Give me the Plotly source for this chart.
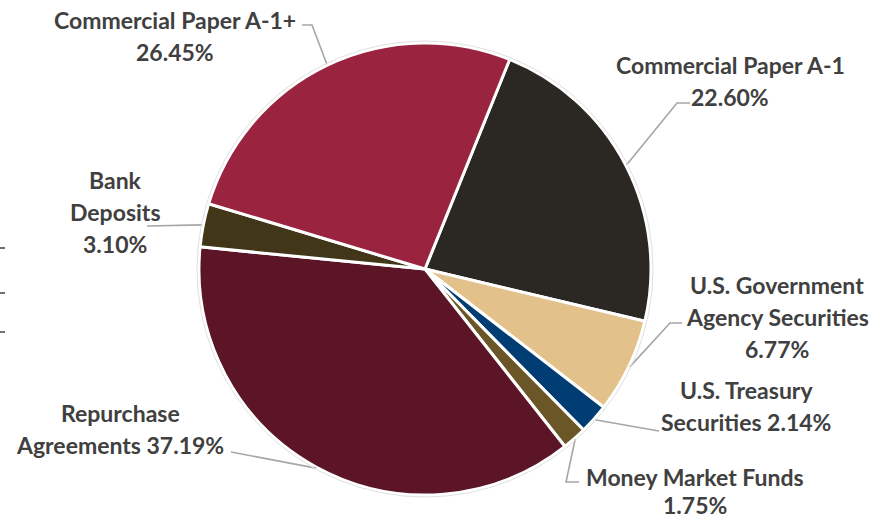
import math
import plotly.graph_objects as go

# ---------------- data ----------------
categories = [
    "Commercial Paper A-1",
    "U.S. Government Agency Securities",
    "U.S. Treasury Securities",
    "Money Market Funds",
    "Repurchase Agreements",
    "Bank Deposits",
    "Commercial Paper A-1+",
]
values = [22.60, 6.77, 2.14, 1.75, 37.19, 3.10, 26.45]
colors = ["#2b2723", "#e3c18b", "#003d73", "#6b5627", "#5b1526", "#423618", "#9a2340"]

# label text lines (the percentage is appended from values)
label_lines = [
    ["Commercial Paper A-1", "{p}"],
    ["U.S. Government", "Agency Securities", "{p}"],
    ["U.S. Treasury", "Securities {p}"],
    ["Money Market Funds", "{p}"],
    ["Repurchase", "Agreements {p}"],
    ["Bank", "Deposits", "{p}"],
    ["Commercial Paper A-1+", "{p}"],
]

# ---------------- layout (pixels) ----------------
W, H = 890, 518
CX, CY, R = 425, 269, 226
ROTATION = 22

# label placement: text centre x, first line y, line gap, leader elbow, leader end
label_pos = [
    dict(x=730, y=65, gap=32, elbow=(677, 103), end=(690, 103)),
    dict(x=777, y=285, gap=32, elbow=(670, 323), end=(682, 323)),
    dict(x=746, y=390, gap=32, elbow=(659, 431), end=(659, 431)),
    dict(x=695, y=477, gap=28, elbow=(566, 482), end=(579, 482)),
    dict(x=120, y=413, gap=32, elbow=(231, 452), end=(231, 452)),
    dict(x=115, y=180, gap=32, elbow=(147, 226), end=(147, 226)),
    dict(x=175, y=20, gap=32, elbow=(312, 25), end=(302, 25)),
]


def px(x, y):
    return x / W, 1 - y / H


fig = go.Figure(
    go.Pie(
        labels=categories,
        values=values,
        sort=False,
        direction="clockwise",
        rotation=ROTATION,
        marker=dict(colors=colors, line=dict(color="white", width=3)),
        textinfo="none",
        hoverinfo="label+percent",
        domain=dict(
            x=[(CX - R) / W, (CX + R) / W],
            y=[1 - (CY + R) / H, 1 - (CY - R) / H],
        ),
        showlegend=False,
    )
)

total = sum(values)
annotations = []
shapes = []
cum = 0.0
for cat, v, lines, pos in zip(categories, values, label_lines, label_pos):
    mid = ROTATION + (cum + v / 2) / total * 360
    cum += v
    a = math.radians(mid)
    ax_ = CX + (R + 1) * math.sin(a)
    ay_ = CY - (R + 1) * math.cos(a)
    pct = f"{v:.2f}%"
    for i, ln in enumerate(lines):
        xx, yy = px(pos["x"], pos["y"] + i * pos["gap"])
        annotations.append(
            dict(
                x=xx, y=yy, xref="paper", yref="paper",
                text=ln.format(p=pct), showarrow=False,
                xanchor="center", yanchor="middle",
                font=dict(family="Lato", size=23, color="#404040", weight="bold"),
            )
        )
    p0 = px(ax_, ay_)
    p1 = px(*pos["elbow"])
    p2 = px(*pos["end"])
    shapes.append(
        dict(
            type="path", xref="paper", yref="paper",
            path=f"M {p0[0]} {p0[1]} L {p1[0]} {p1[1]} L {p2[0]} {p2[1]}",
            line=dict(color="#a6a6a6", width=1.6),
        )
    )

# faint outer rim of the pie
x0, y0 = px(CX - R - 2, CY - R - 2)
x1, y1 = px(CX + R + 2, CY + R + 2)
shapes.append(dict(type="circle", xref="paper", yref="paper", x0=x0, y0=y0, x1=x1, y1=y1,
                   line=dict(color="#e0e0e0", width=1)))

# small stray tick marks at the left edge
for ty in [248, 293, 332]:
    a0 = px(0, ty)
    a1 = px(5, ty)
    shapes.append(dict(type="line", xref="paper", yref="paper", x0=a0[0], y0=a0[1],
                       x1=a1[0], y1=a1[1], line=dict(color="#404040", width=1.5)))

fig.update_layout(
    width=W, height=H,
    margin=dict(l=0, r=0, t=0, b=0),
    paper_bgcolor="white", plot_bgcolor="white",
    annotations=annotations, shapes=shapes,
)

fig.write_html(
    "out.html",
    config={"displayModeBar": False},
    post_script="document.body.style.margin='0px';document.body.style.overflow='hidden';",
)
